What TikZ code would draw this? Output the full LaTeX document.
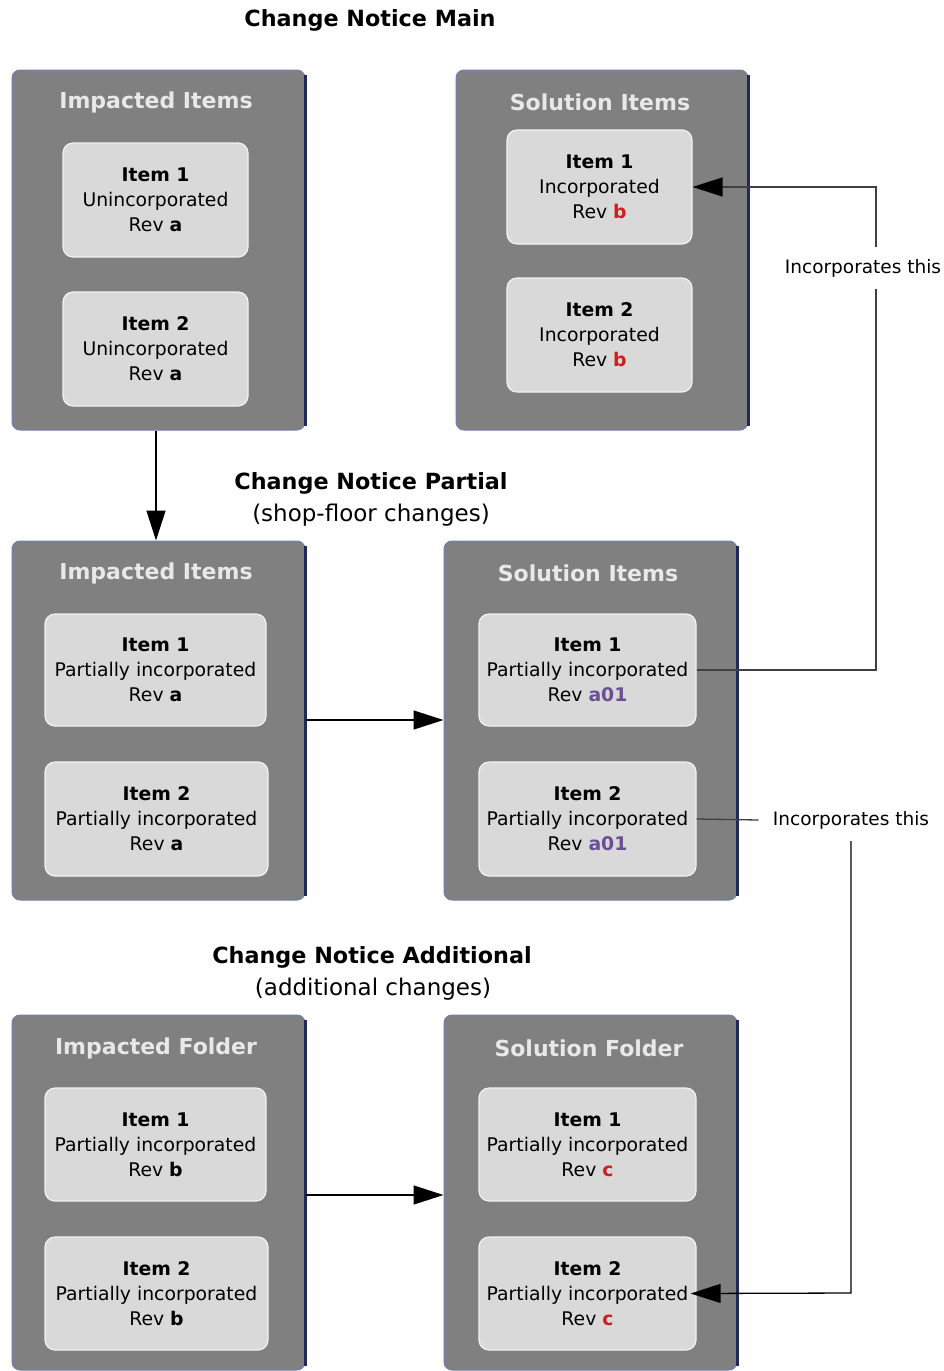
\documentclass[tikz,border=0pt]{standalone}
\usepackage{fontspec}
\setmainfont{DejaVu Sans}
\usetikzlibrary{arrows.meta,calc}
\definecolor{boxgray}{HTML}{808080}
\definecolor{boxedge}{HTML}{7080B0}
\definecolor{navyedge}{HTML}{1F2A5A}
\definecolor{itemfill}{HTML}{D9D9D9}
\definecolor{itemedge}{HTML}{F2F2F2}
\definecolor{headtxt}{HTML}{E8E8E8}
\definecolor{revred}{HTML}{CC1F1F}
\definecolor{revpurple}{HTML}{6A4F95}
\definecolor{connline}{HTML}{404040}
\tikzset{
  outerbox/.style={fill=boxgray, draw=boxedge, line width=1pt, rounded corners=8pt, inner sep=0pt},
  navyside/.style={draw=navyedge, line width=2.2pt},
  headtext/.style={text=headtxt, font=\fontsize{22}{26}\selectfont\bfseries, inner sep=0pt},
  itembox/.style={fill=itemfill, draw=itemedge, line width=1.2pt, rounded corners=10pt,
    align=center, inner sep=0pt, font=\fontsize{18.8}{25}\selectfont},
  titletext/.style={font=\fontsize{22.3}{26}\selectfont\bfseries, inner sep=0pt},
  subtext/.style={font=\fontsize{23}{27}\selectfont, inner sep=0pt},
  lbltext/.style={fill=white, font=\fontsize{18.5}{22}\selectfont, inner xsep=14pt, inner ysep=12pt},
  bigarrow/.style={draw=black, line width=1.3pt, -{Triangle[length=30pt,width=19pt]}},
  connarrow/.style={draw=connline, line width=1.3pt},
  conntip/.style={-{Triangle[length=30pt,width=19pt,black]}},
}
\newcommand{\itm}[3]{\textbf{Item #1}\\#2\\Rev #3}
\begin{document}
\begin{tikzpicture}[x=1pt,y=-1pt]
\useasboundingbox (0,0) rectangle (943,1371);
\fill[white] (0,0) rectangle (943,1371);

% titles
\node[titletext] (t1) at (370,20) {Change Notice Main};
\node[titletext] (t2) at (371,483) {Change Notice Partial};
\node[subtext] (s2) at (371,515) {(shop-floor changes)};
\node[titletext] (t3) at (372,957) {Change Notice Additional};
\node[subtext] (s3) at (373,989) {(additional changes)};

% outer boxes
\node[outerbox, minimum width=293pt, minimum height=360pt] (A) at (158.5,250) {};
\node[outerbox, minimum width=292pt, minimum height=360pt] (B) at (602,250) {};
\node[outerbox, minimum width=293pt, minimum height=359pt] (C) at (158.5,720.5) {};
\node[outerbox, minimum width=293pt, minimum height=359pt] (D) at (590.5,720.5) {};
\node[outerbox, minimum width=293pt, minimum height=355pt] (E) at (158.5,1192.5) {};
\node[outerbox, minimum width=293pt, minimum height=355pt] (F) at (590.5,1192.5) {};
\foreach \b in {A,B,C,D,E,F}{
  \draw[navyside] ([yshift=-5pt]\b.north east) -- ([yshift=5pt]\b.south east);
}

% headers
\node[headtext] (hA) at (156,102) {Impacted Items};
\node[headtext] (hB) at (600,102) {Solution Items};
\node[headtext] (hC) at (156,573) {Impacted Items};
\node[headtext] (hD) at (588,573) {Solution Items};
\node[headtext] (hE) at (156,1048) {Impacted Folder};
\node[headtext] (hF) at (589,1048) {Solution Folder};

% items
\node[itembox, minimum width=185pt, minimum height=114pt] (A1) at (155.5,200) {\itm{1}{Unincorporated}{\textbf{a}}};
\node[itembox, minimum width=185pt, minimum height=114pt] (A2) at (155.5,349) {\itm{2}{Unincorporated}{\textbf{a}}};
\node[itembox, minimum width=185pt, minimum height=114pt] (B1) at (599.5,187) {\itm{1}{Incorporated}{\textcolor{revred}{\textbf{b}}}};
\node[itembox, minimum width=185pt, minimum height=114pt] (B2) at (599.5,335) {\itm{2}{Incorporated}{\textcolor{revred}{\textbf{b}}}};
\node[itembox, minimum width=221pt, minimum height=112pt] (C1) at (155.5,670) {\itm{1}{Partially incorporated}{\textbf{a}}};
\node[itembox, minimum width=223pt, minimum height=114pt] (C2) at (156.5,819) {\itm{2}{Partially incorporated}{\textbf{a}}};
\node[itembox, minimum width=217pt, minimum height=112pt] (D1) at (587.5,670) {\itm{1}{Partially incorporated}{\textcolor{revpurple}{\textbf{a01}}}};
\node[itembox, minimum width=217pt, minimum height=114pt] (D2) at (587.5,819) {\itm{2}{Partially incorporated}{\textcolor{revpurple}{\textbf{a01}}}};
\node[itembox, minimum width=221pt, minimum height=113pt] (E1) at (155.5,1144.5) {\itm{1}{Partially incorporated}{\textbf{b}}};
\node[itembox, minimum width=223pt, minimum height=113pt] (E2) at (156.5,1293.5) {\itm{2}{Partially incorporated}{\textbf{b}}};
\node[itembox, minimum width=217pt, minimum height=113pt] (F1) at (587.5,1144.5) {\itm{1}{Partially incorporated}{\textcolor{revred}{\textbf{c}}}};
\node[itembox, minimum width=217pt, minimum height=113pt] (F2) at (587.5,1293.5) {\itm{2}{Partially incorporated}{\textcolor{revred}{\textbf{c}}}};

% main arrows
\draw[bigarrow] (A.south -| 156,0) -- (C.north -| 156,0);
\draw[bigarrow] (C.east |- 0,720) -- (D.west |- 0,720);
\draw[bigarrow] (E.east |- 0,1195) -- (F.west |- 0,1195);

% incorporates connectors
\node[lbltext] (L1) at (863,268) {Incorporates this};
\node[lbltext] (L2) at (851,820) {Incorporates this};
\coordinate (k1) at (876,670);
\coordinate (k2) at (876,187);
\coordinate (k3) at (851,1293);
\draw[connarrow] (D1.east) -- (k1) -- (k1 |- L1.south);
\draw[connarrow, conntip] (k1 |- L1.north) -- (k2) -- (B1.east);
\draw[connarrow] (D2.east) -- (L2.west);
\draw[connarrow, draw=black, conntip] (L2.south) -- (k3) -- ([xshift=-6pt]F2.east);
\end{tikzpicture}
\end{document}
